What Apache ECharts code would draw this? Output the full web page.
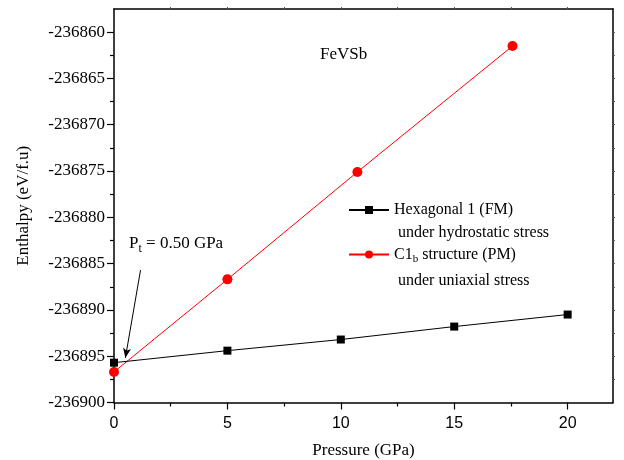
<!DOCTYPE html>
<html>
<head>
<meta charset="utf-8">
<script src="https://cdn.jsdelivr.net/npm/echarts@6/dist/echarts.min.js"></script>
<style>html,body{margin:0;padding:0;background:#fff}#c{width:624px;height:460px}</style>
</head>
<body>
<div id="c"></div>
<script>
// ---- data ----
const hexPressure = [0, 5, 10, 15, 20];
const hexEnthalpy = [-236895.7, -236894.4, -236893.2, -236891.8, -236890.5];
const c1bPressure = [0, 5, 10.73, 17.57];
const c1bEnthalpy = [-236896.7, -236886.7, -236875.1, -236861.5];
const xTicks = [0, 5, 10, 15, 20];
const xMinorTicks = [2.5, 7.5, 12.5, 17.5];
const xTopTicks = [2.5, 5, 7.5, 10, 12.5, 15, 17.5, 20];
const yTicks = [-236900, -236895, -236890, -236885, -236880, -236875, -236870, -236865, -236860];
const yMinorTicks = [-236897.5, -236892.5, -236887.5, -236882.5, -236877.5, -236872.5, -236867.5, -236862.5];
const yRightTicks = [-236897.5, -236895, -236892.5, -236890, -236887.5, -236885, -236882.5, -236880, -236877.5, -236875, -236872.5, -236870, -236867.5, -236865, -236862.5, -236860];
const arrowFrom = [1.17, -236885.7];
const arrowTo = [0.5, -236895.2];
const legendNames = ['Hexagonal 1 (FM)', 'C1b structure (PM)'];

const SERIF = '"Liberation Serif", "Times New Roman", serif';
const SANS = '"Liberation Sans", Arial, sans-serif';
const X_MIN = 0, X_MAX = 22, Y_MIN = -236900, Y_MAX = -236857.5;

const zip = (a, b) => a.map((v, i) => [v, b[i]]);
const lineCol = '#000';

function xAx(extra) {
  return Object.assign({
    type: 'value', min: X_MIN, max: X_MAX, interval: 5,
    splitLine: { show: false },
    axisLine: { show: false, lineStyle: { color: lineCol, width: 1.5 } },
    axisTick: { show: false },
    axisLabel: { show: false }
  }, extra);
}
function yAx(extra) {
  return Object.assign({
    type: 'value', min: Y_MIN, max: Y_MAX, interval: 5,
    scale: true,
    splitLine: { show: false },
    axisLine: { show: false, lineStyle: { color: lineCol, width: 1.5 } },
    axisTick: { show: false },
    axisLabel: { show: false }
  }, extra);
}

const chart = echarts.init(document.getElementById('c'), null, { renderer: 'canvas' });
chart.setOption({
  animation: false,
  backgroundColor: '#fff',
  grid: { left: 114, right: 11, top: 9, bottom: 57.5, containLabel: false, outerBoundsMode: 'none' },
  xAxis: [
    xAx({
      position: 'bottom',
      axisLine: { show: true, onZero: false, lineStyle: { color: lineCol, width: 1.5 } },
      axisTick: { show: true, length: 7, customValues: xTicks, lineStyle: { color: lineCol, width: 1.2 } },
      axisLabel: { show: true, customValues: xTicks, margin: 13, color: '#000', fontFamily: SANS, fontSize: 16 },
      name: 'Pressure (GPa)', nameLocation: 'middle', nameGap: 40,
      nameTextStyle: { color: '#000', fontFamily: SERIF, fontSize: 17 }
    }),
    xAx({
      position: 'bottom',
      axisLine: { show: false, onZero: false },
      axisTick: { show: true, length: 4, customValues: xMinorTicks, lineStyle: { color: lineCol, width: 1.2 } }
    }),
    xAx({
      position: 'top',
      axisLine: { show: true, onZero: false, lineStyle: { color: lineCol, width: 1.5 } },
      axisTick: { show: true, length: 2, customValues: xTopTicks, lineStyle: { color: '#555', width: 1 } }
    })
  ],
  yAxis: [
    yAx({
      position: 'left',
      axisLine: { show: true, onZero: false, lineStyle: { color: lineCol, width: 1.5 } },
      axisTick: { show: true, length: 7, customValues: yTicks, lineStyle: { color: lineCol, width: 1.2 } },
      axisLabel: { show: true, customValues: yTicks, margin: 9, color: '#000', fontFamily: SERIF, fontSize: 17,
        formatter: v => String(Math.round(v)) },
      name: 'Enthalpy (eV/f.u)', nameLocation: 'middle', nameGap: 82,
      nameTextStyle: { color: '#000', fontFamily: SERIF, fontSize: 17 }
    }),
    yAx({
      position: 'left',
      axisLine: { show: false, onZero: false },
      axisTick: { show: true, length: 4, customValues: yMinorTicks, lineStyle: { color: lineCol, width: 1.2 } }
    }),
    yAx({
      position: 'right',
      axisLine: { show: true, onZero: false, lineStyle: { color: lineCol, width: 1.5 } },
      axisTick: { show: true, length: 2, customValues: yRightTicks, lineStyle: { color: '#555', width: 1 } }
    })
  ],
  legend: {
    orient: 'vertical', left: 348, top: 202, padding: 0, itemGap: 28.5,
    itemWidth: 40, itemHeight: 10,
    data: legendNames,
    formatter: name => name === legendNames[1] ? '{a|C1}{sub|b}{a| structure (PM)}' : '{a|' + name + '}',
    textStyle: {
      color: '#000', fontFamily: SERIF, fontSize: 16,
      rich: {
        a: { fontFamily: SERIF, fontSize: 16, lineHeight: 20, color: '#000' },
        sub: { fontFamily: SERIF, fontSize: 11, verticalAlign: 'bottom', color: '#000' }
      }
    },
    selectedMode: false
  },
  graphic: [
    { type: 'text', x: 320, y: 55, silent: true,
      style: { text: 'FeVSb', font: '17px ' + SERIF, fill: '#000', verticalAlign: 'middle' } },
    { type: 'text', x: 398, y: 233, silent: true,
      style: { text: 'under hydrostatic stress', font: '16px ' + SERIF, fill: '#000', verticalAlign: 'middle' } },
    { type: 'text', x: 398, y: 281, silent: true,
      style: { text: 'under uniaxial stress', font: '16px ' + SERIF, fill: '#000', verticalAlign: 'middle' } },
    { type: 'text', x: 129, y: 244, silent: true,
      style: {
        text: '{a|P}{sub|t}{a| = 0.50 GPa}', fill: '#000', verticalAlign: 'middle',
        rich: {
          a: { fontFamily: SERIF, fontSize: 17, lineHeight: 22, fill: '#000' },
          sub: { fontFamily: SERIF, fontSize: 12, verticalAlign: 'bottom', fill: '#000' }
        }
      } }
  ],
  series: [
    {
      name: legendNames[0], type: 'line', xAxisIndex: 0, yAxisIndex: 0,
      data: zip(hexPressure, hexEnthalpy),
      symbol: 'rect', symbolSize: 8,
      itemStyle: { color: '#000' },
      lineStyle: { color: '#000', width: 1 },
      emphasis: { disabled: true }, silent: true, z: 3,
      markLine: {
        silent: true, animation: false,
        symbol: ['none', 'arrow'], symbolSize: [6, 10],
        lineStyle: { color: '#000', width: 1, type: 'solid' },
        label: { show: false },
        data: [[{ coord: arrowFrom }, { coord: arrowTo }]]
      }
    },
    {
      name: legendNames[1], type: 'line', xAxisIndex: 0, yAxisIndex: 0,
      data: zip(c1bPressure, c1bEnthalpy),
      symbol: 'circle', symbolSize: 10,
      itemStyle: { color: '#ff0000' },
      lineStyle: { color: '#ff0000', width: 1 },
      emphasis: { disabled: true }, silent: true, z: 2
    }
  ]
});
</script>
</body>
</html>
